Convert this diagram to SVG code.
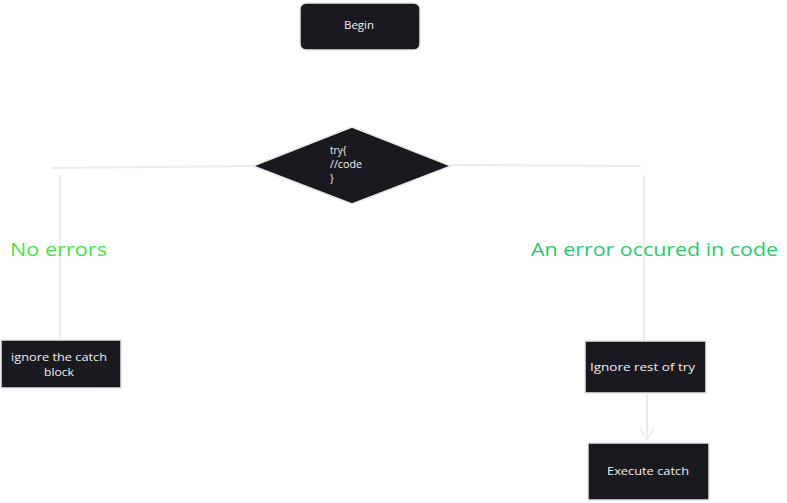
<svg xmlns="http://www.w3.org/2000/svg" width="787" height="503" viewBox="0 0 787 503">
<defs>
<style>
.box{fill:#1b1920;stroke:#e8e8e8;stroke-width:1.5}
.t{fill:#f0f0f0;font-family:"Open Sans","Liberation Sans",sans-serif;font-size:11px}
.d{fill:#f0f0f0;font-family:"Open Sans","Liberation Sans",sans-serif;font-size:10px}
.c{stroke:#ececec;stroke-width:2;fill:none;stroke-linecap:round}
.lbl{font-family:"Open Sans","Liberation Sans",sans-serif;font-size:18px}
</style>
<marker id="ah" viewBox="0 0 14 16" refX="13" refY="8" markerWidth="14" markerHeight="16" orient="auto" markerUnits="userSpaceOnUse">
<path d="M1 1 L13 8 L1 15" fill="none" stroke="#ececec" stroke-width="1.5"/>
</marker>
</defs>
<rect width="787" height="503" fill="#ffffff"/>
<g id="connectors">
<path class="c" d="M253 166 L52 168"/>
<path class="c" d="M60 176 L60 340" stroke-width="3"/>
<path class="c" d="M451 165 L640 166"/>
<path class="c" d="M644 176 L644 340" stroke-width="2.5"/>
<path class="c" d="M647 394 L647 440" stroke-width="1.5" marker-end="url(#ah)"/>
</g>
<g id="begin">
<rect class="box" x="300" y="3" width="120" height="47" rx="6"/>
<text class="t" x="359" y="29" text-anchor="middle" textLength="30" lengthAdjust="spacingAndGlyphs">Begin</text>
</g>
<g id="try">
<path class="box" d="M352 127 L451 166 L352 204 L253 166 Z"/>
<text class="d" x="330" y="154">try{</text>
<text class="d" x="330" y="168" textLength="32" lengthAdjust="spacingAndGlyphs">//code</text>
<text class="d" x="330" y="182">}</text>
</g>
<g id="no-errors">
<text class="lbl" x="10" y="256" fill="#3fe83f" textLength="97" lengthAdjust="spacingAndGlyphs">No errors</text>
</g>
<g id="error-label">
<text class="lbl" x="531" y="256" fill="#1ecf6a" textLength="247" lengthAdjust="spacingAndGlyphs">An error occured in code</text>
</g>
<g id="ignore-catch">
<rect class="box" x="1" y="340" width="120" height="48"/>
<text class="t" x="11" y="361" textLength="96" lengthAdjust="spacingAndGlyphs">ignore the catch</text>
<text class="t" x="59" y="376" text-anchor="middle" textLength="30" lengthAdjust="spacingAndGlyphs">block</text>
</g>
<g id="ignore-rest">
<rect class="box" x="585" y="341" width="121" height="52"/>
<text class="t" x="590" y="371" textLength="105" lengthAdjust="spacingAndGlyphs">Ignore rest of try</text>
</g>
<g id="execute-catch">
<rect class="box" x="588" y="443" width="121" height="57"/>
<text class="t" x="607" y="475" textLength="82" lengthAdjust="spacingAndGlyphs">Execute catch</text>
</g>
</svg>
